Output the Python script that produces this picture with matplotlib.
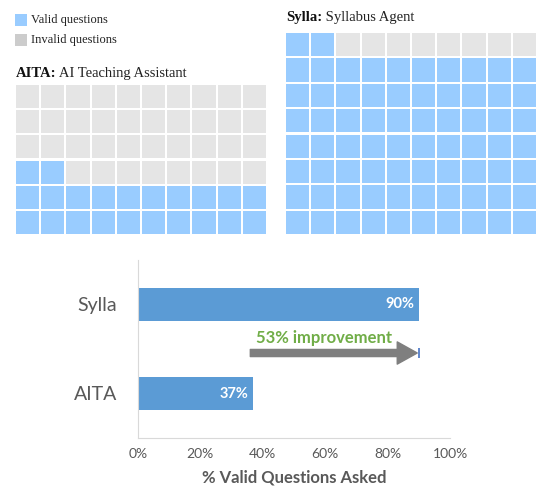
import matplotlib.pyplot as plt
from matplotlib.patches import Rectangle

# waffle data
aita_valid = 22
aita_rows, aita_cols = 6, 10
sylla_valid = 72
sylla_rows, sylla_cols = 8, 10

# bar data
systems = ['AITA', 'Sylla']
valid_pct = [37, 90]
xticks = [0, 20, 40, 60, 80, 100]
improvement_label = '53% improvement'

blue = '#99CCFF'
grey = '#E5E5E5'
W, H = 536, 493

fig = plt.figure(figsize=(W / 100, H / 100), dpi=100)


def px_axes(x0, y0, x1, y1):
    # pixel box (top-left origin) -> figure axes
    return fig.add_axes([x0 / W, 1 - y1 / H, (x1 - x0) / W, (y1 - y0) / H])


def waffle(ax, n_valid, rows, cols):
    gap = 0.08
    for i in range(rows * cols):
        r, c = divmod(i, cols)
        col = blue if i < n_valid else grey
        ax.add_patch(Rectangle((c + gap / 2, r + gap / 2), 1 - gap, 1 - gap,
                               facecolor=col, edgecolor='none'))
    ax.set_xlim(0, cols)
    ax.set_ylim(0, rows)
    ax.axis('off')


ax1 = px_axes(15, 84, 267, 235)
waffle(ax1, aita_valid, aita_rows, aita_cols)
ax2 = px_axes(285, 32, 537, 235)
waffle(ax2, sylla_valid, sylla_rows, sylla_cols)

serif = 'Liberation Serif'
# titles
t1 = fig.text(16 / W, 1 - 77 / H, 'AITA:', fontsize=10.5, fontweight='bold',
              family=serif, color='#111111', va='baseline')
ax1.annotate(' AI Teaching Assistant', xy=(1, 0), xycoords=t1, va='bottom',
             fontsize=10.5, family=serif, color='#222222')
t2 = fig.text(286 / W, 1 - 21 / H, 'Sylla:', fontsize=10.5, fontweight='bold',
              family=serif, color='#111111', va='baseline')
ax2.annotate(' Syllabus Agent', xy=(1, 0), xycoords=t2, va='bottom',
             fontsize=10.5, family=serif, color='#222222')

# legend
fig.patches.append(Rectangle((15 / W, 1 - 26 / H), 12 / W, 12 / H, facecolor=blue,
                             edgecolor='none', transform=fig.transFigure, figure=fig))
fig.patches.append(Rectangle((15 / W, 1 - 46 / H), 12 / W, 12 / H, facecolor='#CCCCCC',
                             edgecolor='none', transform=fig.transFigure, figure=fig))
fig.text(31 / W, 1 - 20 / H, 'Valid questions', fontsize=9, family=serif,
         color='#222222', va='center')
fig.text(31 / W, 1 - 40 / H, 'Invalid questions', fontsize=9, family=serif,
         color='#222222', va='center')

# bar chart
sans = 'Lato'
ax = px_axes(138, 260, 450, 438)
ypos = list(range(len(systems)))
ax.barh(ypos, valid_pct, height=0.37, color='#5B9BD5')
for y, v in zip(ypos, valid_pct):
    ax.text(v - 1.5, y, f'{v}%', color='white', fontweight='bold', fontsize=10.5,
            family=sans, ha='right', va='center')
ax.set_xlim(0, 100)
ax.set_ylim(-0.5, 1.5)
ax.set_yticks(ypos)
ax.set_yticklabels(systems, fontsize=14, family=sans, color='#595959')
ax.set_xticks(xticks)
ax.set_xticklabels([f'{t}%' for t in xticks], fontsize=10, family=sans, color='#595959')
ax.tick_params(length=0, pad=7)
ax.tick_params(axis='y', pad=15)
for s in ['top', 'right']:
    ax.spines[s].set_visible(False)
for s in ['left', 'bottom']:
    ax.spines[s].set_color('#D9D9D9')
ax.set_xlabel('% Valid Questions Asked', fontsize=12, fontweight='bold',
              family=sans, color='#595959', labelpad=7)

# improvement arrow
ax.annotate('', xy=(valid_pct[1] - 0.5, 0.455), xytext=(valid_pct[0] - 1, 0.455),
            arrowprops=dict(arrowstyle='simple,head_length=0.9,head_width=1.0,tail_width=0.32',
                            color='#7F7F7F', mutation_scale=16, shrinkA=0, shrinkB=0,
                            capstyle='round'))
ax.vlines(valid_pct[1], 0.40, 0.51, color='#4472C4', lw=1.2)
ax.text(59.5, 0.62, improvement_label, color='#70AD47', fontweight='bold',
        fontsize=12, family=sans, ha='center', va='center')

fig.savefig('out.png', dpi=100)
